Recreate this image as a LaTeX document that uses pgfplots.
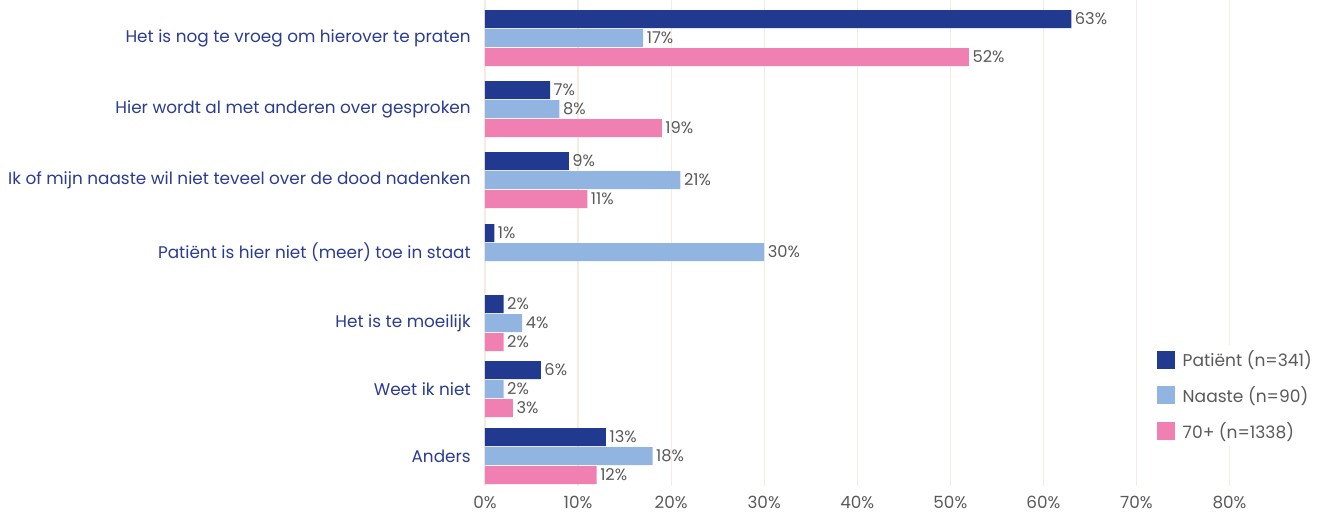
\documentclass[border=0pt]{standalone}
\usepackage{pgfplots}
\pgfplotsset{compat=1.18}
\usepackage{fontspec}
\setmainfont{Poppins}
\definecolor{cdark}{HTML}{213A8F}
\definecolor{clight}{HTML}{92B4E0}
\definecolor{cpink}{HTML}{EF80B1}
\definecolor{clabel}{HTML}{2B3C91}
\definecolor{cgrid}{HTML}{F3ECE0}
\definecolor{ctext}{HTML}{5A5A5A}
\begin{document}
\begin{tikzpicture}
\begin{axis}[
  at={(0,0)}, anchor=south west,
  width=614.25pt, height=364.5pt, scale only axis,
  xmin=0, xmax=88, ymin=0, ymax=486, y dir=reverse,
  /pgf/number format/assume math mode=true,
  axis line style={draw=none},
  major tick length=0pt,
  xmajorgrids, grid style={color=cgrid, line width=0.9pt},
  xtick={0,10,...,80},
  xticklabel={\pgfmathprintnumber{\tick}\%},
  xticklabel style={font=\fontsize{12.6}{14}\selectfont, text=ctext, inner sep=0pt, yshift=-7.5pt},
  ytick={38,109,180,252,323,389,456},
  yticklabels={Het is nog te vroeg om hierover te praten,
    Hier wordt al met anderen over gesproken,
    Ik of mijn naaste wil niet teveel over de dood nadenken,
    Patiënt is hier niet (meer) toe in staat,
    Het is te moeilijk,
    Weet ik niet,
    Anders},
  yticklabel style={font=\fontsize{12.65}{14}\selectfont, text=clabel, inner sep=0pt, anchor=east, xshift=-10.5pt},
  xbar, bar width=18, bar shift=0pt,
  point meta=x,
  nodes near coords={\pgfmathprintnumber{\pgfplotspointmeta}\%},
  nodes near coords style={font=\fontsize{12.2}{13}\selectfont, text=ctext, anchor=west, inner sep=2.5pt},
  legend cell align=left,
  legend style={at={(0.815,0.29)}, anchor=north west, draw=none, fill=white,
    font=\fontsize{12.8}{14}\selectfont, text=ctext,
    /tikz/every odd column/.append style={column sep=4pt},
    row sep=9.4pt},
  legend image code/.code={\fill[#1] (0pt,-6.75pt) rectangle (13.5pt,6.75pt);},
]
\addplot[fill=cdark, draw=none] coordinates {(63,19) (7,90) (9,161) (1,233) (2,304) (6,370) (13,437)};
\addlegendentry{Patiënt (n=341)}
\addplot[fill=clight, draw=none] coordinates {(17,38) (8,109) (21,180) (30,252) (4,323) (2,389) (18,456)};
\addlegendentry{Naaste (n=90)}
\addplot[fill=cpink, draw=none] coordinates {(52,57) (19,128) (11,199) (2,342) (3,408) (12,475)};
\addlegendentry{70+ (n=1338)}
\end{axis}
\pgfresetboundingbox
\path[use as bounding box] (-363.75pt,-19.5pt) rectangle (627.75pt,364.5pt);
\end{tikzpicture}
\end{document}
